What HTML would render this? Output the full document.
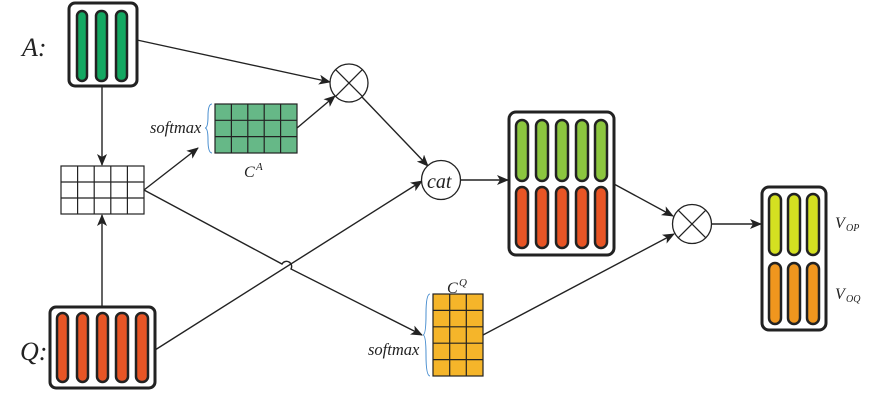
<!DOCTYPE html>
<html><head><meta charset="utf-8"><style>
html,body{margin:0;padding:0;background:#fff;}
svg{display:block;}
text{font-family:"Liberation Serif",serif;font-style:italic;fill:#222;}
</style></head><body>
<svg width="891" height="406" viewBox="0 0 891 406" xmlns="http://www.w3.org/2000/svg">
<defs>
<marker id="ar" viewBox="0 0 12 10" refX="11" refY="5" markerWidth="12" markerHeight="10" markerUnits="userSpaceOnUse" orient="auto">
<path d="M0,0 L12,5 L0,10 L3,5 Z" fill="#222"/></marker>
</defs>
<g stroke="#222" stroke-width="1.4" fill="none">
<line x1="102" y1="86" x2="102" y2="165" marker-end="url(#ar)"/>
<line x1="102" y1="307" x2="102" y2="215" marker-end="url(#ar)"/>
<line x1="137" y1="40" x2="330" y2="82" marker-end="url(#ar)"/>
<line x1="297" y1="128" x2="335" y2="96" marker-end="url(#ar)"/>
<line x1="362" y1="97" x2="428" y2="166" marker-end="url(#ar)"/>
<line x1="144" y1="190" x2="198" y2="148" marker-end="url(#ar)"/>
<path d="M144,190 L282,264 A5,5 0 0 1 291,269 L422,335" marker-end="url(#ar)"/>
<line x1="155" y1="350" x2="422" y2="181" marker-end="url(#ar)"/>
<line x1="461" y1="180" x2="508" y2="180" marker-end="url(#ar)"/>
<line x1="614" y1="184" x2="673" y2="216" marker-end="url(#ar)"/>
<line x1="483" y1="335" x2="674" y2="234" marker-end="url(#ar)"/>
<line x1="712" y1="224" x2="761" y2="224" marker-end="url(#ar)"/>
</g>
<rect x="69" y="3" width="68" height="83" rx="6" fill="#fff" stroke="#222" stroke-width="3"/>
<g fill="#14a862" stroke="#222" stroke-width="2.5">
<rect x="77" y="11" width="10" height="70" rx="5"/><rect x="96" y="11" width="11" height="70" rx="5"/><rect x="116" y="11" width="11" height="70" rx="5"/>
</g>
<text x="22" y="56" font-size="26">A:</text>
<rect x="50" y="307" width="105" height="81" rx="6" fill="#fff" stroke="#222" stroke-width="3"/>
<g fill="#e85525" stroke="#222" stroke-width="2.5">
<rect x="57" y="313" width="11" height="69" rx="5.5"/><rect x="77" y="313" width="11" height="69" rx="5.5"/><rect x="97" y="313" width="11" height="69" rx="5.5"/><rect x="116" y="313" width="12" height="69" rx="5.5"/><rect x="136" y="313" width="12" height="69" rx="5.5"/>
</g>
<text x="20" y="360" font-size="26">Q:</text>
<g stroke="#222" stroke-width="1.2" fill="#fff">
<rect x="61" y="166" width="83" height="48"/>
<path d="M77.6,166V214M94.2,166V214M110.8,166V214M127.4,166V214M61,182H144M61,198H144"/>
</g>
<g stroke="#222" stroke-width="1.2">
<rect x="215" y="104" width="82" height="49" fill="#66b887"/>
<path d="M231.4,104V153M247.8,104V153M264.2,104V153M280.6,104V153M215,120.3H297M215,136.6H297" fill="none"/>
</g>
<path d="M212,104 Q208,104 208,116 Q208,128 205,128 Q208,128 208,140 Q208,153 212,153" fill="none" stroke="#4a8fd0" stroke-width="1"/>
<text x="150" y="133" font-size="16.5">softmax</text>
<text x="244" y="177" font-size="16">C</text><text x="256" y="170" font-size="11">A</text>
<g stroke="#222" stroke-width="1.2">
<rect x="433" y="294" width="50" height="82" fill="#f5b52a"/>
<path d="M449.7,294V376M466.3,294V376M433,310.4H483M433,326.8H483M433,343.2H483M433,359.6H483" fill="none"/>
</g>
<path d="M430,294 Q426,294 426,314 Q426,335 423,335 Q426,335 426,355 Q426,376 430,376" fill="none" stroke="#4a8fd0" stroke-width="1"/>
<text x="368" y="355" font-size="16.5">softmax</text>
<text x="447" y="293" font-size="16">C</text><text x="459" y="286" font-size="11">Q</text>
<g stroke="#222" stroke-width="1.3" fill="#fff">
<circle cx="349" cy="83" r="19"/>
<path d="M335.6,69.6L362.4,96.4M362.4,69.6L335.6,96.4"/>
<circle cx="692" cy="224" r="19.5"/>
<path d="M678.2,210.2L705.8,237.8M705.8,210.2L678.2,237.8"/>
<circle cx="441" cy="180" r="19.5"/>
</g>
<text x="427" y="188" font-size="20">cat</text>
<rect x="509" y="112" width="105" height="143" rx="7" fill="#fff" stroke="#222" stroke-width="3"/>
<g fill="#8cc63f" stroke="#222" stroke-width="2.5">
<rect x="516" y="120" width="12" height="61" rx="6"/><rect x="536" y="120" width="12" height="61" rx="6"/><rect x="556" y="120" width="12" height="61" rx="6"/><rect x="576" y="120" width="12" height="61" rx="6"/><rect x="595" y="120" width="12" height="61" rx="6"/>
</g>
<g fill="#e85525" stroke="#222" stroke-width="2.5">
<rect x="516" y="187" width="12" height="61" rx="6"/><rect x="536" y="187" width="12" height="61" rx="6"/><rect x="556" y="187" width="12" height="61" rx="6"/><rect x="576" y="187" width="12" height="61" rx="6"/><rect x="595" y="187" width="12" height="61" rx="6"/>
</g>
<rect x="762" y="187" width="64" height="143" rx="7" fill="#fff" stroke="#222" stroke-width="3"/>
<g fill="#d4e021" stroke="#222" stroke-width="2.5">
<rect x="769" y="194" width="12" height="61" rx="6"/><rect x="788" y="194" width="12" height="61" rx="6"/><rect x="807" y="194" width="12" height="61" rx="6"/>
</g>
<g fill="#f0961e" stroke="#222" stroke-width="2.5">
<rect x="769" y="263" width="12" height="61" rx="6"/><rect x="788" y="263" width="12" height="61" rx="6"/><rect x="807" y="263" width="12" height="61" rx="6"/>
</g>
<text x="835" y="228" font-size="16">V</text><text x="846" y="231" font-size="10">OP</text>
<text x="835" y="299" font-size="16">V</text><text x="846" y="302" font-size="10">OQ</text>
</svg>
</body></html>
